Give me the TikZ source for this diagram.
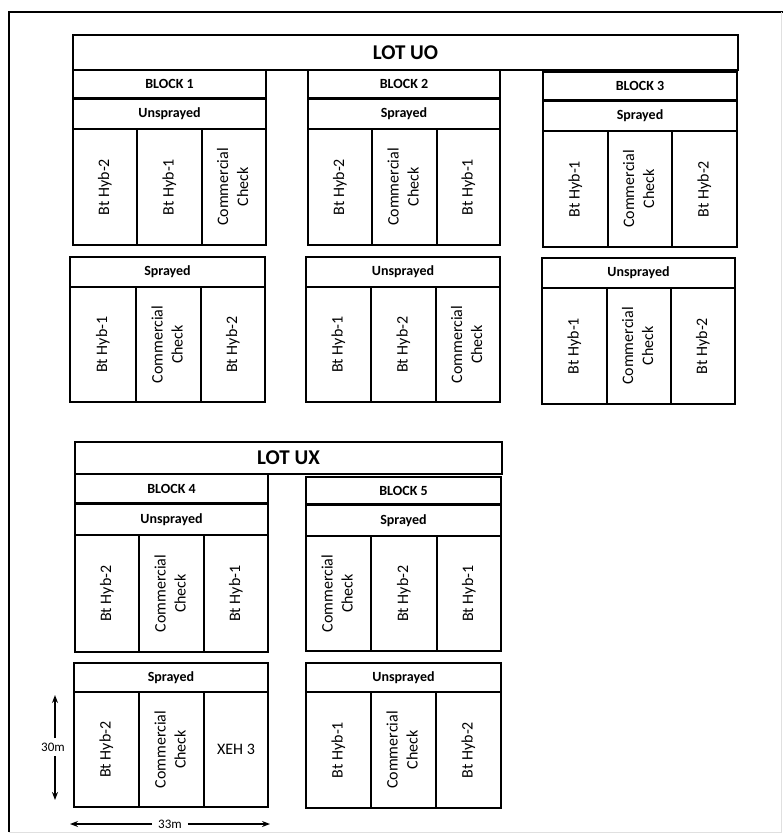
\documentclass[tikz,border=0pt]{standalone}
\usepackage{fontspec}
\setmainfont{Carlito}
\usepackage{graphicx}
\usetikzlibrary{arrows.meta}
\newcommand{\rv}[1]{\rotatebox{90}{\begin{tabular}{@{}c@{}}#1\end{tabular}}}
\newcommand{\boxat}[7]{\node[#1, minimum width={#4-#2}, minimum height={#5-#3}] (#6) at ({(#2+#4)/2},{(#3+#5)/2}) {#7};}
\tikzset{
  cellbox/.style={draw=black, line width=2.4pt, rectangle, inner sep=0pt, outer sep=0pt, font=\fontsize{16}{20}\selectfont},
  hdrbox/.style={cellbox, font=\bfseries\fontsize{14}{16}\selectfont},
  lotbox/.style={cellbox, font=\bfseries\fontsize{21}{24}\selectfont},
  dimlabel/.style={font=\fontsize{13}{15}\selectfont, inner sep=1pt},
  dimarrow/.style={-{Stealth[length=8pt,width=6pt]}, line width=1.4pt}
}
\begin{document}
\begin{tikzpicture}[x=1pt,y=-1pt]
\useasboundingbox[fill=white] (0,0) rectangle (783,835);
% frame
\draw[line width=1.6pt] (9,832) -- (9,12) -- (783,12);
\draw[black!12, line width=1pt] (9,832) -- (781,832) -- (781,12);
% LOT UO
\boxat{lotbox}{73}{35}{738}{70}{lotuo}{LOT UO}
% Block 1
\boxat{hdrbox}{73}{70}{266}{98}{b1}{BLOCK 1}
\boxat{hdrbox}{73}{99}{266}{129}{b1a}{Unsprayed}
\boxat{cellbox}{73}{129}{137}{245}{b1a1}{\rv{Bt Hyb-2}}
\boxat{cellbox}{137}{129}{202}{245}{b1a2}{\rv{Bt Hyb-1}}
\boxat{cellbox}{202}{129}{266}{245}{b1a3}{\rv{Commercial\\Check}}
\boxat{hdrbox}{70}{257}{265}{287}{b1b}{Sprayed}
\boxat{cellbox}{70}{287}{136}{402}{b1b1}{\rv{Bt Hyb-1}}
\boxat{cellbox}{136}{287}{201}{402}{b1b2}{\rv{Commercial\\Check}}
\boxat{cellbox}{201}{287}{265}{402}{b1b3}{\rv{Bt Hyb-2}}
% Block 2
\boxat{hdrbox}{308}{70}{500}{98}{b2}{BLOCK 2}
\boxat{hdrbox}{308}{99}{500}{129}{b2a}{Sprayed}
\boxat{cellbox}{308}{129}{372}{245}{b2a1}{\rv{Bt Hyb-2}}
\boxat{cellbox}{372}{129}{437}{245}{b2a2}{\rv{Commercial\\Check}}
\boxat{cellbox}{437}{129}{500}{245}{b2a3}{\rv{Bt Hyb-1}}
\boxat{hdrbox}{306}{257}{500}{287}{b2b}{Unsprayed}
\boxat{cellbox}{306}{287}{371}{402}{b2b1}{\rv{Bt Hyb-1}}
\boxat{cellbox}{371}{287}{436}{402}{b2b2}{\rv{Bt Hyb-2}}
\boxat{cellbox}{436}{287}{500}{402}{b2b3}{\rv{Commercial\\Check}}
% Block 3
\boxat{hdrbox}{543}{72}{737}{100}{b3}{BLOCK 3}
\boxat{hdrbox}{543}{101}{737}{131}{b3a}{Sprayed}
\boxat{cellbox}{543}{131}{608}{247}{b3a1}{\rv{Bt Hyb-1}}
\boxat{cellbox}{608}{131}{672}{247}{b3a2}{\rv{Commercial\\Check}}
\boxat{cellbox}{672}{131}{737}{247}{b3a3}{\rv{Bt Hyb-2}}
\boxat{hdrbox}{542}{258}{735}{288}{b3b}{Unsprayed}
\boxat{cellbox}{542}{288}{607}{404}{b3b1}{\rv{Bt Hyb-1}}
\boxat{cellbox}{607}{288}{671}{404}{b3b2}{\rv{Commercial\\Check}}
\boxat{cellbox}{671}{288}{735}{404}{b3b3}{\rv{Bt Hyb-2}}
% LOT UX
\boxat{lotbox}{75}{442}{502}{474}{lotux}{LOT UX}
% Block 4
\boxat{hdrbox}{75}{474}{268}{503}{b4}{BLOCK 4}
\boxat{hdrbox}{75}{504}{268}{535}{b4a}{Unsprayed}
\boxat{cellbox}{75}{535}{139}{652}{b4a1}{\rv{Bt Hyb-2}}
\boxat{cellbox}{139}{535}{204}{652}{b4a2}{\rv{Commercial\\Check}}
\boxat{cellbox}{204}{535}{268}{652}{b4a3}{\rv{Bt Hyb-1}}
\boxat{hdrbox}{74}{663}{268}{692}{b4b}{Sprayed}
\boxat{cellbox}{74}{692}{139}{807}{b4b1}{\rv{Bt Hyb-2}}
\boxat{cellbox}{139}{692}{204}{807}{b4b2}{\rv{Commercial\\Check}}
\boxat{cellbox}{204}{692}{268}{807}{b4b3}{XEH 3}
% Block 5
\boxat{hdrbox}{306}{477}{501}{504}{b5}{BLOCK 5}
\boxat{hdrbox}{306}{505}{501}{536}{b5a}{Sprayed}
\boxat{cellbox}{306}{536}{371}{651}{b5a1}{\rv{Commercial\\Check}}
\boxat{cellbox}{371}{536}{437}{651}{b5a2}{\rv{Bt Hyb-2}}
\boxat{cellbox}{437}{536}{501}{651}{b5a3}{\rv{Bt Hyb-1}}
\boxat{hdrbox}{306}{663}{501}{692}{b5b}{Unsprayed}
\boxat{cellbox}{306}{692}{371}{808}{b5b1}{\rv{Bt Hyb-1}}
\boxat{cellbox}{371}{692}{436}{808}{b5b2}{\rv{Commercial\\Check}}
\boxat{cellbox}{436}{692}{501}{808}{b5b3}{\rv{Bt Hyb-2}}
% dimensions
\node[dimlabel] (d30) at (53,747) {30m};
\coordinate (d30t) at (55,695);
\coordinate (d30b) at (55,800);
\draw[dimarrow, shorten <=9pt] (55,747) -- (d30t);
\draw[dimarrow, shorten <=9pt] (55,747) -- (d30b);
\node[dimlabel] (d33) at (170,824) {33m};
\coordinate (d33l) at (70,824);
\coordinate (d33r) at (270,824);
\draw[dimarrow, shorten <=5pt] (d33.west) -- (d33l);
\draw[dimarrow, shorten <=5pt] (d33.east) -- (d33r);
\end{tikzpicture}
\end{document}
